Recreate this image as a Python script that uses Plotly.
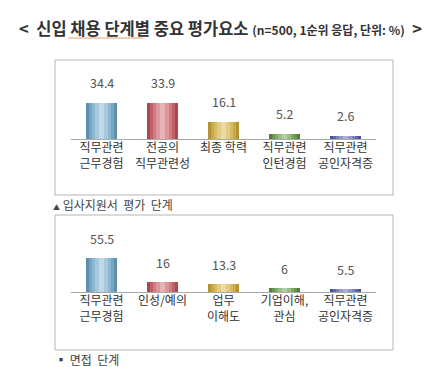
import plotly.graph_objects as go

W, H = 446, 367
FONT = "Noto Sans CJK KR"

# ---- data ----
cats_top = ["직무관련<br>근무경험", "전공의<br>직무관련성", "최종 학력", "직무관련<br>인턴경험", "직무관련<br>공인자격증"]
vals_top = [34.4, 33.9, 16.1, 5.2, 2.6]
cats_bot = ["직무관련<br>근무경험", "인성/예의", "업무<br>이해도", "기업이해,<br>관심", "직무관련<br>공인자격증"]
vals_bot = [55.5, 16, 13.3, 6, 5.5]
labels_top = ["34.4", "33.9", "16.1", "5.2", "2.6"]
labels_bot = ["55.5", "16", "13.3", "6", "5.5"]

# shading layers (outer -> inner) to imitate cylindrical bars
layers = [
    (0.50, ["#5f8eab", "#a84a52", "#b39433", "#527f3c", "#4a528e"]),
    (0.42, ["#77a6c2", "#be6168", "#c8a847", "#68954f", "#6068a6"]),
    (0.32, ["#8fb8d0", "#cf7b81", "#d6bb62", "#7fa966", "#7b83ba"]),
    (0.20, ["#a8c9dc", "#dd979b", "#e2cb82", "#99bd82", "#9499c9"]),
    (0.09, ["#c0d9e6", "#e9b3b5", "#ecdaa3", "#b3cf9f", "#adb1d7"]),
]


def px(x):
    return x / W


def py(y):
    return 1 - y / H


fig = go.Figure()


def add_bars(cats, vals, xa, ya):
    for w, cols in layers:
        fig.add_trace(go.Bar(x=cats, y=vals, width=w, marker=dict(color=cols, line=dict(width=0)),
                             xaxis=xa, yaxis=ya, hoverinfo="skip"))


add_bars(cats_top, vals_top, "x", "y")
add_bars(cats_bot, vals_bot, "x2", "y2")

annotations = []
for c, v, t in zip(cats_top, vals_top, labels_top):
    annotations.append(dict(x=c, y=v, xref="x", yref="y", text=t, showarrow=False, yanchor="bottom", yshift=9,
                            font=dict(size=12.5, color="#555555", family=FONT)))
for c, v, t in zip(cats_bot, vals_bot, labels_bot):
    annotations.append(dict(x=c, y=v, xref="x2", yref="y2", text=t, showarrow=False, yanchor="bottom", yshift=8,
                            font=dict(size=12.5, color="#555555", family=FONT)))

# title
annotations.append(dict(x=px(9), y=py(20), xref="paper", yref="paper", xanchor="left", yanchor="middle",
                        showarrow=False,
                        text="<b>&lt;  신입 채용 단계별 중요 평가요소</b> <b><span style='font-size:12px'>(n=500, 1순위 응답, 단위: %)</span></b>  <b>&gt;</b>",
                        font=dict(size=16.5, color="#333333", family=FONT)))
# footnotes
annotations.append(dict(x=px(43), y=py(196), xref="paper", yref="paper", xanchor="left", yanchor="middle",
                        showarrow=False, text="<span style='font-size:7px'>▲</span> 입사지원서  평가  단계",
                        font=dict(size=12, color="#444444", family=FONT)))
annotations.append(dict(x=px(45), y=py(351), xref="paper", yref="paper", xanchor="left", yanchor="middle",
                        showarrow=False, text="▪ 면접  단계",
                        font=dict(size=12, color="#444444", family=FONT)))

shapes = [
    dict(type="rect", xref="paper", yref="paper", x0=px(47), x1=px(385), y0=py(187), y1=py(52),
         line=dict(color="#b5b5b5", width=1)),
    dict(type="rect", xref="paper", yref="paper", x0=px(47), x1=px(385), y0=py(342), y1=py(207),
         line=dict(color="#b5b5b5", width=1)),
    dict(type="line", xref="paper", yref="paper", x0=px(60), x1=px(135), y0=py(30), y1=py(30),
         line=dict(color="#e8a070", width=1)),
]

axis_x = dict(type="category", range=[-0.5, 4.5], showline=True, linecolor="#a8a8a8", linewidth=1,
              ticks="", showgrid=False, zeroline=False, fixedrange=True, ticklabelstandoff=-2,
              tickfont=dict(size=12, color="#333333", family=FONT))
axis_y = dict(showticklabels=False, showgrid=False, zeroline=False, showline=False, ticks="")

fig.update_layout(
    width=W, height=H, margin=dict(l=0, r=0, t=0, b=0),
    paper_bgcolor="white", plot_bgcolor="white",
    barmode="overlay", showlegend=False, bargap=0,
    xaxis=dict(axis_x, domain=[px(63), px(368)], anchor="y"),
    yaxis=dict(axis_y, domain=[py(131), py(60)], range=[0, 71 / 1.05]),
    xaxis2=dict(axis_x, domain=[px(63), px(368)], anchor="y2"),
    yaxis2=dict(axis_y, domain=[py(284), py(215)], range=[0, 69 / 0.615]),
    annotations=annotations, shapes=shapes,
    font=dict(family=FONT),
)

fig.write_html("out.html")
